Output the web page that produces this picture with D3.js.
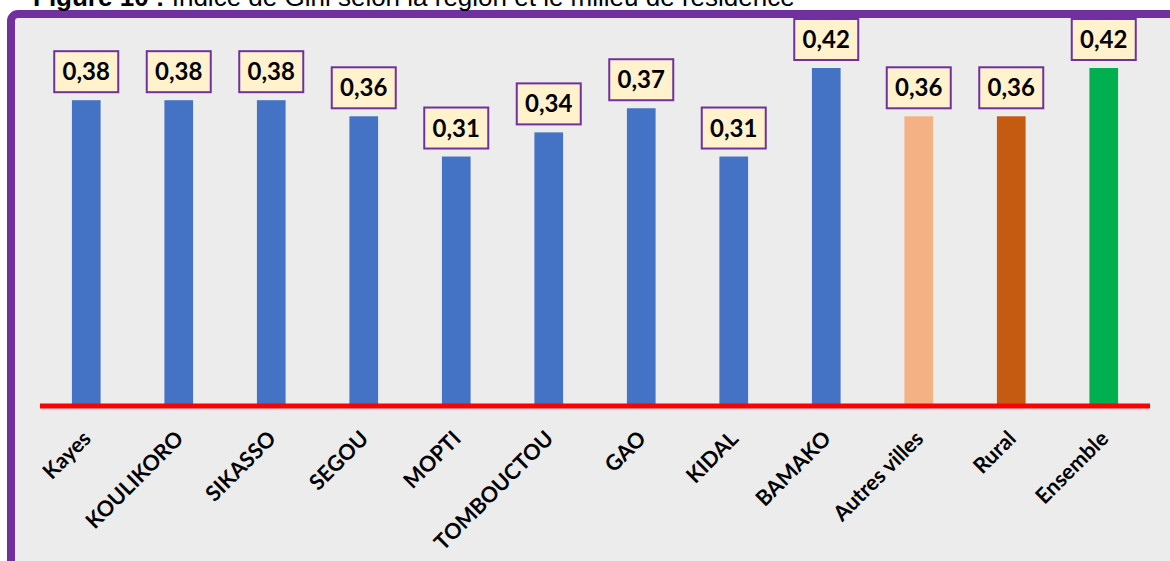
<!DOCTYPE html>
<html>
<head>
<meta charset="utf-8">
<script src="https://cdn.jsdelivr.net/npm/d3@7"></script>
<style>
  html, body { margin: 0; padding: 0; background: #ffffff; }
  svg { display: block; }
</style>
</head>
<body>
<svg id="chart" width="1170" height="561"></svg>
<script>
// Gini index by region and area of residence
const categories = ["Kayes", "KOULIKORO", "SIKASSO", "SEGOU", "MOPTI", "TOMBOUCTOU", "GAO", "KIDAL", "BAMAKO", "Autres villes", "Rural", "Ensemble"];
const giniValues = [0.38, 0.38, 0.38, 0.36, 0.31, 0.34, 0.37, 0.31, 0.42, 0.36, 0.36, 0.42];
const barColors = ["#4472c4", "#4472c4", "#4472c4", "#4472c4", "#4472c4", "#4472c4", "#4472c4", "#4472c4", "#4472c4", "#f4b183", "#c55a11", "#00b050"];
const titleBold = "Figure 10 :";
const titleRest = " Indice de Gini selon la région et le milieu de résidence";

const svg = d3.select("#chart");
const W = 1170, H = 561;

// Framed grey panel
svg.append("rect")
  .attr("x", 11).attr("y", 14)
  .attr("width", W + 20).attr("height", H + 20)
  .attr("rx", 7).attr("ry", 7)
  .attr("fill", "#ececec")
  .attr("stroke", "#7030a0")
  .attr("stroke-width", 8);

// Title (its upper part runs above the page edge)
const title = svg.append("text")
  .attr("x", 33).attr("y", 6)
  .attr("font-family", "Liberation Sans, Arial, sans-serif")
  .attr("font-size", 26)
  .attr("fill", "#000");
title.append("tspan").attr("font-weight", "bold").text(titleBold);
title.append("tspan").text(titleRest);

const baseY = 406;
const x = d3.scaleBand()
  .domain(categories)
  .range([40, 1150])
  .paddingInner(0.69)
  .paddingOuter(0.345);

const y = d3.scaleLinear()
  .domain([0, 0.42])
  .range([baseY, 68]);

const data = categories.map((c, i) => ({ cat: c, v: giniValues[i], color: barColors[i] }));

// Bars
svg.append("g").selectAll("rect")
  .data(data)
  .join("rect")
  .attr("x", d => x(d.cat))
  .attr("y", d => y(d.v))
  .attr("width", x.bandwidth())
  .attr("height", d => baseY - y(d.v))
  .attr("fill", d => d.color);

// Baseline
svg.append("line")
  .attr("x1", 40).attr("x2", 1150)
  .attr("y1", baseY).attr("y2", baseY)
  .attr("stroke", "#ff0000")
  .attr("stroke-width", 5);

// Value labels in boxes
const fmt = v => d3.format(".2f")(v).replace(".", ",");
const labels = svg.append("g").selectAll("g")
  .data(data)
  .join("g")
  .attr("transform", d => `translate(${x(d.cat) + x.bandwidth() / 2},${y(d.v) - 8})`);

labels.append("rect")
  .attr("x", -32).attr("y", -41)
  .attr("width", 64).attr("height", 41)
  .attr("fill", "#fff2cc")
  .attr("stroke", "#7030a0")
  .attr("stroke-width", 2);

labels.append("text")
  .attr("x", 0).attr("y", -12)
  .attr("text-anchor", "middle")
  .attr("font-family", "Lato, 'Open Sans', sans-serif")
  .attr("font-weight", "bold")
  .attr("font-size", 24)
  .attr("fill", "#000")
  .text(d => fmt(d.v));

// Category labels, rotated
const xAxis = d3.axisBottom(x).tickSize(0).tickPadding(0);
const gx = svg.append("g")
  .attr("transform", `translate(0,${baseY})`)
  .call(xAxis);
gx.select(".domain").remove();
gx.selectAll(".tick text")
  .attr("font-family", "Lato, 'Open Sans', sans-serif")
  .attr("font-weight", "bold")
  .attr("font-size", 21.5)
  .attr("fill", "#000")
  .attr("text-anchor", "end")
  .attr("dy", null)
  .attr("transform", "translate(6,34) rotate(-45)");
</script>
</body>
</html>
